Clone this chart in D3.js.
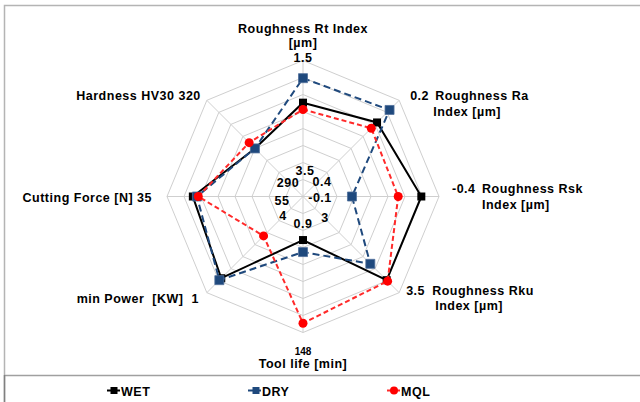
<!DOCTYPE html>
<html>
<head>
<meta charset="utf-8">
<script src="https://cdn.jsdelivr.net/npm/d3@7"></script>
<style>
  body { margin: 0; background: #fff; }
  text { font-family: "Liberation Sans", Arial, sans-serif; font-weight: bold; fill: #000; white-space: pre; letter-spacing: 0.5px; }
</style>
</head>
<body>
<svg width="640" height="402"></svg>
<script>
// axes, clockwise from the top
var axisNames = ["Rt", "Ra", "Rsk", "Rku", "Tool life", "Power", "Force", "Hardness"];
// value at the centre and at the outer ring of every axis
var axisInner = [3.5, 0.4, -0.1, 3, 0.9, 4, 55, 290];
var axisOuter = [1.5, 0.2, -0.4, 3.5, 148, 1, 35, 320];

var seriesNames = ["WET", "DRY", "MQL"];
var wetValues = [2.12, 0.246, -0.361, 3.435, 48, 1.45, 38.8, 305];
var dryValues = [1.76, 0.220, -0.208, 3.35, 61, 1.39, 39.4, 305];
var mqlValues = [2.22, 0.258, -0.310, 3.44, 138, 2.77, 39.6, 306.8];

var svg = d3.select("svg"),
    width = +svg.attr("width"),
    height = +svg.attr("height");

var cx = 303, cy = 196.5, R = 136, rings = 8;
var n = axisNames.length;
var fs = 12.5; // label font size

var angle = d3.scaleLinear().domain([0, n]).range([0, 2 * Math.PI]);
var scales = axisNames.map(function(d, i) {
  return d3.scaleLinear().domain([axisInner[i], axisOuter[i]]).range([0, R]);
});
function pt(i, r) {
  var a = angle(i);
  return [cx + r * Math.sin(a), cy - r * Math.cos(a)];
}

// frame
svg.append("path").attr("d", "M4.5,402 V5.5 H640").attr("fill", "none")
  .attr("stroke", "#b4b4b4").attr("stroke-width", 1.5);
svg.append("line").attr("x1", 4).attr("x2", 640).attr("y1", 375.5).attr("y2", 375.5)
  .attr("stroke", "#a0a0a0").attr("stroke-width", 1.5);
svg.append("line").attr("x1", 4.5).attr("x2", 4.5).attr("y1", 375).attr("y2", 402)
  .attr("stroke", "#808080").attr("stroke-width", 1.5);

// grid
var grid = svg.append("g").attr("class", "grid");
d3.range(1, rings + 1).forEach(function(k) {
  var r = R * k / rings;
  grid.append("polygon")
    .attr("points", d3.range(n).map(function(i) { return pt(i, r).join(","); }).join(" "))
    .attr("fill", "none").attr("stroke", "#cfcfcf").attr("stroke-width", 1);
});
d3.range(n).forEach(function(i) {
  var p = pt(i, R);
  grid.append("line").attr("x1", cx).attr("y1", cy).attr("x2", p[0]).attr("y2", p[1])
    .attr("stroke", "#cfcfcf").attr("stroke-width", 1);
});

// axis labels (text, anchor, x offset, y offset from the outer vertex)
var labelLayout = [
  [["Roughness Rt Index", "middle", 0, -28], ["[µm]", "middle", 0, -13.5], ["1.5", "middle", 0, 1.5]],
  [["0.2", "start", 11, 0], ["Roughness Ra", "start", 36, 0], ["Index [µm]", "start", 34, 16]],
  [["-0.4", "start", 13, -4], ["Roughness Rsk", "start", 43, -4], ["Index [µm]", "start", 43, 12]],
  [["3.5", "start", 7, 2], ["Roughness Rku", "start", 33, 2], ["Index [µm]", "start", 36, 17]],
  [["148", "middle", 0, 22, 10], ["Tool life [min]", "middle", 0, 35]],
  [["min Power  [KW]  1", "end", -8, 10]],
  [["Cutting Force [N] 35", "end", -15, 5]],
  [["Hardness HV30 320", "end", -6, 0]]
];
var labels = svg.append("g").attr("class", "labels");
labelLayout.forEach(function(lines, i) {
  var v = pt(i, R);
  lines.forEach(function(l) {
    labels.append("text")
      .attr("x", v[0] + l[2]).attr("y", v[1] + l[3])
      .attr("text-anchor", l[1])
      .style("font-size", (l[4] || fs) + "px")
      .style("letter-spacing", l[4] ? "0px" : null)
      .text(l[0]);
  });
});

// centre values
var innerPos = [[305, 175], [322, 186], [320, 202], [325, 222], [303, 228], [283, 220], [282, 205], [288, 187]];
svg.append("g").selectAll("text").data(axisInner).enter().append("text")
  .attr("x", function(d, i) { return innerPos[i][0]; })
  .attr("y", function(d, i) { return innerPos[i][1]; })
  .attr("text-anchor", "middle")
  .style("font-size", fs + "px")
  .text(function(d) { return d; });

// series
var series = [
  { name: "WET", values: wetValues, color: "#000000", dash: null, marker: "square", size: 8, fill: "#000" },
  { name: "DRY", values: dryValues, color: "#1f497d", dash: "7,4", marker: "square", size: 9, fill: "#1f497d" },
  { name: "MQL", values: mqlValues, color: "#ff2a2a", dash: "5,3", marker: "circle", size: 9, fill: "#ff0000" }
];

var line = d3.lineRadial()
  .angle(function(d, i) { return angle(i); })
  .radius(function(d, i) { return scales[i](d); })
  .curve(d3.curveLinearClosed);

series.forEach(function(s) {
  var g = svg.append("g").attr("transform", "translate(" + cx + "," + cy + ")");
  g.append("path").attr("d", line(s.values))
    .attr("fill", "none").attr("stroke", s.color).attr("stroke-width", 2)
    .attr("stroke-dasharray", s.dash);
  var sym = d3.symbol().type(s.marker == "square" ? d3.symbolSquare : d3.symbolCircle)
    .size(s.size * s.size * (s.marker == "square" ? 1 : 0.785));
  g.selectAll(".m").data(s.values).enter().append("path")
    .attr("d", sym)
    .attr("transform", function(d, i) {
      var a = angle(i), r = scales[i](d);
      return "translate(" + (r * Math.sin(a)) + "," + (-r * Math.cos(a)) + ")";
    })
    .attr("fill", s.fill)
    .attr("stroke", s.name == "DRY" ? "#4f6f9a" : "none")
    .attr("stroke-width", 0.8);
});

// legend
var legendX = [107, 248, 387];
var legend = svg.append("g").attr("class", "legend");
series.forEach(function(s, i) {
  var x = legendX[i], y = 390.5;
  legend.append("line").attr("x1", x).attr("x2", x + 13).attr("y1", y).attr("y2", y)
    .attr("stroke", s.color).attr("stroke-width", 2);
  legend.append("path")
    .attr("d", d3.symbol().type(s.marker == "square" ? d3.symbolSquare : d3.symbolCircle)
      .size(s.marker == "square" ? 49 : 50))
    .attr("transform", "translate(" + (x + (s.name == "DRY" ? 8 : 7)) + "," + y + ")")
    .attr("fill", s.fill);
  legend.append("text").attr("x", x + 14).attr("y", y + 5)
    .style("font-size", fs + "px").text(s.name);
});
</script>
</body>
</html>
